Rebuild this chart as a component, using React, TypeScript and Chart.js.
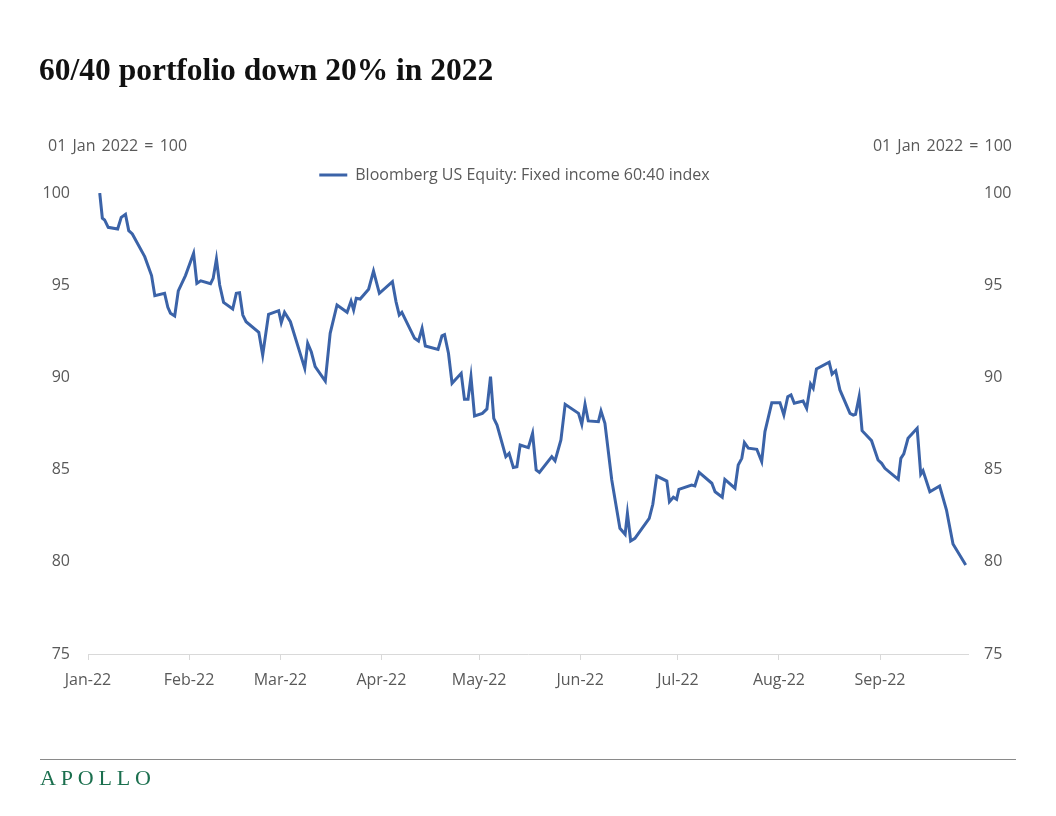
import { useEffect, useRef } from 'react';
import { Chart, registerables } from 'chart.js';

Chart.register(...registerables);

const chartTitle = '60/40 portfolio down 20% in 2022';
const axisTitle = '01 Jan 2022 = 100';
const seriesLabel = 'Bloomberg US Equity: Fixed income 60:40 index';

// days since 01 Jan 2022
const dayOffsets = [
  3.6, 4.4, 5.1, 6.2, 9.1, 10.2, 11.5, 12.5, 13.6, 17.4, 19.5, 20.5, 23.5, 24.5, 25.3, 26.6, 27.7, 29.9,
  32.4, 33.4, 34.6, 37.6, 38.4, 39.4, 40.4, 41.6, 44.4, 45.5, 46.5, 47.5, 48.5, 52.4, 53.6, 55.4, 58.5,
  59.3, 60.3, 62.1, 66.5, 67.4, 68.5, 69.7, 72.8, 74.3, 76.4, 79.5, 80.7, 81.5, 82.3, 83.5, 86.1, 87.6,
  89.4, 93.4, 94.5, 95.5, 96.3, 100.2, 101.4, 102.5, 103.5, 107.4, 108.6, 109.4, 110.6, 111.7, 114.5,
  115.5, 116.6, 117.5, 118.6, 121.0, 122.4, 123.5, 124.5, 125.5, 128.2, 129.2, 130.5, 131.6, 132.6,
  135.1, 136.4, 137.5, 138.5, 142.3, 143.3, 145.1, 146.4, 150.5, 151.5, 152.5, 153.5, 156.6, 157.4,
  158.6, 160.7, 163.2, 164.8, 165.5, 166.5, 167.8, 172.2, 173.3, 174.5, 177.6, 178.4, 179.6, 180.6,
  181.3, 185.2, 186.2, 187.5, 191.4, 192.4, 194.6, 195.4, 198.5, 199.5, 200.6, 201.4, 202.6, 205.2,
  206.7, 207.7, 209.8, 212.3, 213.5, 214.7, 215.7, 216.7, 219.4, 220.5, 221.7, 222.5, 223.5, 227.4,
  228.3, 229.4, 230.7, 233.8, 234.8, 235.5, 236.6, 237.5, 240.4, 242.4, 243.5, 244.5, 248.6, 249.4,
  250.3, 251.6, 254.4, 255.5, 256.2, 258.3, 261.3, 263.4, 265.4, 269.3,
];

const indexValues = [
  100.0, 98.63, 98.54, 98.14, 98.05, 98.68, 98.84, 97.96, 97.78, 96.55, 95.52, 94.43, 94.56, 93.8, 93.48,
  93.33, 94.69, 95.52, 96.73, 95.1, 95.24, 95.08, 95.37, 96.42, 95.01, 94.07, 93.71, 94.56, 94.59, 93.38,
  93.02, 92.45, 91.21, 93.42, 93.62, 92.97, 93.53, 93.02, 90.49, 91.85, 91.39, 90.58, 89.8, 92.39, 93.93,
  93.53, 94.14, 93.66, 94.29, 94.25, 94.78, 95.77, 94.56, 95.19, 94.11, 93.38, 93.53, 92.12, 91.97, 92.66,
  91.7, 91.52, 92.25, 92.32, 91.31, 89.68, 90.22, 88.81, 88.81, 90.04, 87.91, 88.05, 88.29, 90.04, 87.78,
  87.42, 85.7, 85.88, 85.12, 85.16, 86.33, 86.19, 86.97, 84.98, 84.85, 85.7, 85.48, 86.61, 88.54, 88.05,
  87.46, 88.54, 87.64, 87.6, 88.18, 87.51, 84.44, 81.82, 81.49, 82.63, 81.13, 81.27, 82.36, 83.12, 84.65,
  84.38, 83.26, 83.5, 83.39, 83.93, 84.16, 84.11, 84.85, 84.26, 83.8, 83.5, 84.47, 83.99, 85.25, 85.61,
  86.46, 86.16, 86.1, 85.43, 87.06, 88.63, 88.63, 87.96, 88.95, 89.05, 88.6, 88.72, 88.32, 89.64, 89.41,
  90.46, 90.82, 90.18, 90.36, 89.32, 88.05, 87.96, 88.0, 88.95, 87.11, 86.57, 85.52, 85.34, 85.07, 84.47,
  85.61, 85.85, 86.7, 87.24, 84.75, 84.94, 83.8, 84.11, 82.81, 80.97, 79.83,
];

const monthStarts = [0, 31, 59, 90, 120, 151, 181, 212, 243];
const monthLabels = ['Jan-22', 'Feb-22', 'Mar-22', 'Apr-22', 'May-22', 'Jun-22', 'Jul-22', 'Aug-22', 'Sep-22'];
const xMax = 270;
const yMin = 75;
const yMax = 100;
const yStep = 5;

const LINE = '#3B63A8';
const TEXT = '#595959';
const AXIS = '#d9d9d9';
const FONT = "'Open Sans', sans-serif";

export default function App() {
  const ref = useRef<HTMLCanvasElement>(null);

  useEffect(() => {
    if (!ref.current) return;
    Chart.defaults.font.family = FONT;
    Chart.defaults.color = TEXT;
    const points = dayOffsets.map((d, i) => ({ x: d, y: indexValues[i] }));
    const chart = new Chart(ref.current, {
      type: 'line',
      data: {
        datasets: [
          {
            label: seriesLabel,
            data: points,
            borderColor: LINE,
            backgroundColor: LINE,
            borderWidth: 3,
            pointRadius: 0,
            tension: 0,
            yAxisID: 'y',
          },
        ],
      },
      options: {
        animation: false,
        responsive: false,
        maintainAspectRatio: false,
        layout: { padding: { top: 157, right: 27, bottom: 122, left: 0 } },
        plugins: {
          legend: {
            display: true,
            position: 'top',
            labels: {
              usePointStyle: true,
              pointStyle: 'line',
              pointStyleWidth: 28,
              padding: 10,
              color: TEXT,
              font: { size: 16, family: FONT },
            },
          },
          tooltip: { enabled: false },
        },
        scales: {
          x: {
            type: 'linear',
            min: 0,
            max: xMax,
            afterBuildTicks: (s: any) => {
              s.ticks = monthStarts.map((v) => ({ value: v }));
            },
            ticks: {
              autoSkip: false,
              maxRotation: 0,
              padding: 11,
              color: TEXT,
              font: { size: 16, family: FONT },
              callback: (v: any) => {
                const i = monthStarts.indexOf(Number(v));
                return i >= 0 ? monthLabels[i] : '';
              },
            },
            grid: { drawOnChartArea: false, drawTicks: true, tickLength: 6, color: AXIS },
            border: { display: true, color: AXIS, width: 1 },
            afterFit: (s: any) => {
              s.height = 40;
            },
          },
          y: {
            position: 'left',
            min: yMin,
            max: yMax,
            ticks: { stepSize: yStep, padding: 18, color: TEXT, font: { size: 16, family: FONT } },
            grid: { display: false, drawTicks: false },
            border: { display: false },
            afterFit: (s: any) => {
              s.width = 88;
            },
          },
          y2: {
            position: 'right',
            min: yMin,
            max: yMax,
            ticks: { stepSize: yStep, padding: 16, color: TEXT, font: { size: 16, family: FONT } },
            grid: { display: false, drawTicks: false },
            border: { display: false },
            afterFit: (s: any) => {
              s.width = 61;
            },
          },
        },
      },
    });
    return () => chart.destroy();
  }, []);

  return (
    <div style={{ position: 'absolute', left: 0, top: 0, width: 1056, height: 816, background: '#fff', overflow: 'hidden' }}>
      <canvas ref={ref} width={1056} height={816} style={{ position: 'absolute', left: 0, top: 0, display: 'block' }} />
      <div
        style={{
          position: 'absolute',
          left: 39,
          top: 54,
          font: "bold 31.5px 'Liberation Serif', serif",
          lineHeight: '31px',
          color: '#111',
          whiteSpace: 'nowrap',
        }}
      >
        {chartTitle}
      </div>
      <div style={{ position: 'absolute', left: 48, top: 135, font: `16px ${FONT}`, lineHeight: '20px', color: TEXT, whiteSpace: 'pre', wordSpacing: 2 }}>
        {axisTitle}
      </div>
      <div style={{ position: 'absolute', right: 44, top: 135, font: `16px ${FONT}`, lineHeight: '20px', color: TEXT, whiteSpace: 'pre', wordSpacing: 2, textAlign: 'right' }}>
        {axisTitle}
      </div>
      <div style={{ position: 'absolute', left: 40, top: 759, width: 976, height: 1, background: '#8a8a8a' }} />
      <div
        style={{
          position: 'absolute',
          left: 40,
          top: 767,
          font: "22px 'Liberation Serif', serif",
          lineHeight: '22px',
          letterSpacing: '4.8px',
          color: '#1b6f4e',
        }}
      >
        APOLLO
      </div>
    </div>
  );
}
